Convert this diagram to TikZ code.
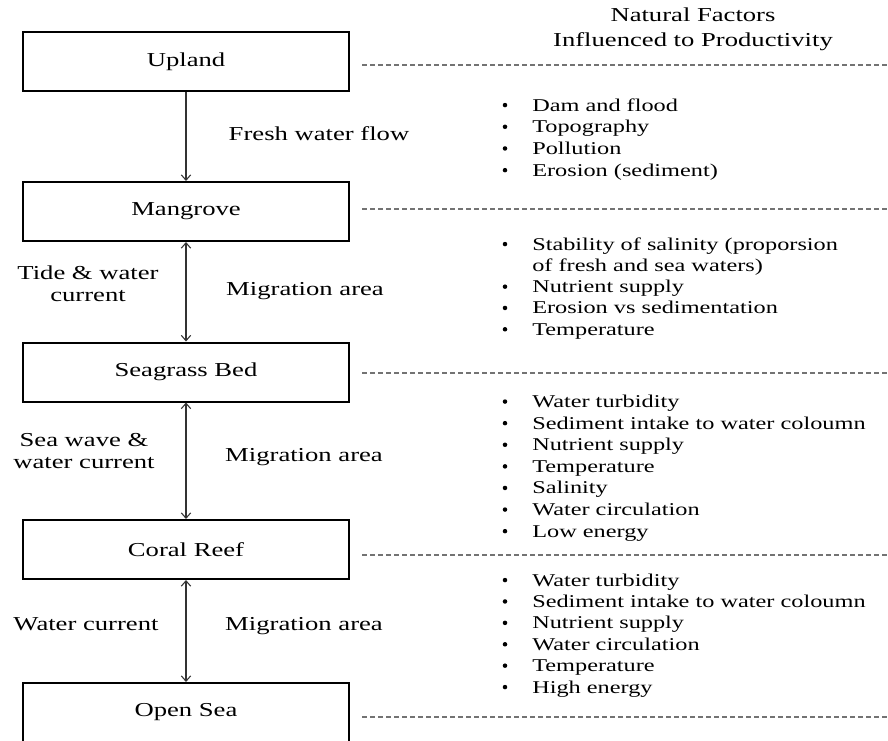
\documentclass[tikz,border=0pt]{standalone}
\usepackage{fontspec}
\setmainfont{Liberation Serif}[FakeStretch=1.35]
\usetikzlibrary{arrows.meta}
\begin{document}
\begin{tikzpicture}[x=0.75pt,y=-0.75pt,
  zone/.style={draw=black, line width=1.5pt, minimum width=244.5pt, minimum height=44.25pt,
    inner sep=0pt, font=\fontsize{14.8}{17}\selectfont},
  conn/.style={draw=black!80, line width=0.8pt, {Straight Barb[length=4pt,width=7pt]}-{Straight Barb[length=4pt,width=7pt]}},
  flow/.style={draw=black!80, line width=0.8pt, -{Straight Barb[length=4pt,width=7pt]}},
  sep/.style={draw=black!55, line width=0.8pt, dash pattern=on 3.6pt off 2.4pt},
  lbl/.style={font=\fontsize{14.8}{16.3}\selectfont, align=center, inner sep=0pt, anchor=mid},
  item/.style={font=\fontsize{13.5}{16}\selectfont, inner sep=0pt, anchor=mid west},
  dot/.style={circle, fill=black, inner sep=0pt, minimum size=3.4pt, yshift=2.2pt},
  head/.style={font=\fontsize{14.8}{17}\selectfont, inner sep=0pt, anchor=mid}
]
\useasboundingbox (0,0) rectangle (888,740);

% boxes
\node[zone] (up) at (186,61.5) {Upland};
\node[zone] (mg) at (186,211.5) {Mangrove};
\node[zone] (sg) at (186,372) {Seagrass Bed};
\node[zone] (cr) at (186,549.5) {Coral Reef};
\node[zone] (os) at (186,712.5) {Open Sea};

% connectors
\draw[flow] (up.south) -- (mg.north);
\draw[conn] (mg.south) -- (sg.north);
\draw[conn] (sg.south) -- (cr.north);
\draw[conn] (cr.south) -- (os.north);

% connector labels
\node[lbl] (l1) at (319,137) {Fresh water flow};
\node[lbl] (l2) at (305,292) {Migration area};
\node[lbl] (l3) at (304,458) {Migration area};
\node[lbl] (l4) at (304,627) {Migration area};
\node[lbl] (t1) at (88,298.5) {Tide \& water\\current};
\node[lbl] (t2) at (84,465) {Sea wave \&\\water current};
\node[lbl] (t3) at (86,627) {Water current};

% heading
\node[head] (h1) at (693,18) {Natural Factors};
\node[head] (h2) at (693,43) {Influenced to Productivity};

% separators
\coordinate (s1a) at (362,65);  \coordinate (s1b) at (888,65);
\coordinate (s2a) at (362,209); \coordinate (s2b) at (888,209);
\coordinate (s3a) at (362,373); \coordinate (s3b) at (888,373);
\coordinate (s4a) at (362,555); \coordinate (s4b) at (888,555);
\coordinate (s5a) at (362,717); \coordinate (s5b) at (888,717);
\draw[sep] (s1a) -- (s1b);
\draw[sep] (s2a) -- (s2b);
\draw[sep] (s3a) -- (s3b);
\draw[sep] (s4a) -- (s4b);
\draw[sep] (s5a) -- (s5b);

% factor lists
\foreach \t [count=\i] in {{Dam and flood},{Topography},{Pollution},{Erosion (sediment)}}{
  \node[dot] (ub\i) at (505,{108+(\i-1)*21.7}) {};
  \node[item] (ut\i) at (532,{108+(\i-1)*21.7}) {\t};
}

\node[dot] (mb1) at (505,247) {};
\node[item] (mt1) at (532,247) {Stability of salinity (proporsion};
\node[item] (mt2) at (532,268.3) {of fresh and sea waters)};
\foreach \t [count=\i] in {{Nutrient supply},{Erosion vs sedimentation},{Temperature}}{
  \node[dot] (mb\i x) at (505,{289.6+(\i-1)*21.3}) {};
  \node[item] (mt\i x) at (532,{289.6+(\i-1)*21.3}) {\t};
}

\foreach \t [count=\i] in {{Water turbidity},{Sediment intake to water coloumn},{Nutrient supply},{Temperature},{Salinity},{Water circulation},{Low energy}}{
  \node[dot] (sb\i) at (505,{404.5+(\i-1)*21.6}) {};
  \node[item] (st\i) at (532,{404.5+(\i-1)*21.6}) {\t};
}

\foreach \t [count=\i] in {{Water turbidity},{Sediment intake to water coloumn},{Nutrient supply},{Water circulation},{Temperature},{High energy}}{
  \node[dot] (cb\i) at (505,{583+(\i-1)*21.4}) {};
  \node[item] (ct\i) at (532,{583+(\i-1)*21.4}) {\t};
}
\end{tikzpicture}
\end{document}
